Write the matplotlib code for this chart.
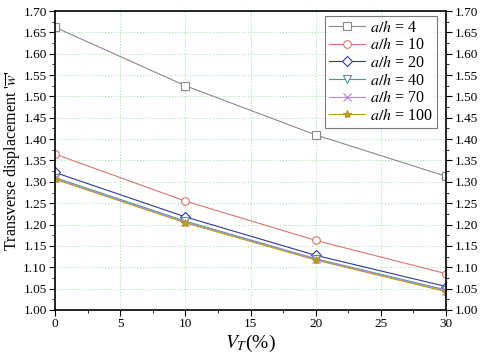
import numpy as np
import matplotlib.pyplot as plt
from matplotlib.ticker import MultipleLocator

plt.rcParams['font.family'] = ['Liberation Serif', 'DejaVu Serif']
plt.rcParams['mathtext.fontset'] = 'stix'

vt = [0, 10, 20, 30]
labels = ['4', '10', '20', '40', '70', '100']
w_4 = [1.662, 1.525, 1.410, 1.313]
w_10 = [1.365, 1.255, 1.163, 1.085]
w_20 = [1.322, 1.218, 1.128, 1.055]
w_40 = [1.310, 1.208, 1.120, 1.047]
w_70 = [1.308, 1.206, 1.119, 1.045]
w_100 = [1.306, 1.204, 1.117, 1.043]

series = [w_4, w_10, w_20, w_40, w_70, w_100]
colors = ['#8a8a8a', '#d8766e', '#34379a', '#3a9c9a', '#b58ad8', '#b89a20']
markers = ['s', 'o', 'D', 'v', 'x', '*']

fig = plt.figure(figsize=(4.8, 3.59), dpi=100)
ax = fig.add_axes([55 / 480, 1 - 310 / 359, 391 / 480, 299 / 359])

for y, lab, c, m in zip(series, labels, colors, markers):
    if m in ('x', '*'):
        ax.plot(vt, y, color=c, lw=0.8, marker=m, ms=6, mew=0.9,
                label='$a/h$ = ' + lab)
    else:
        ax.plot(vt, y, color=c, lw=0.8, marker=m, ms=5.5, mfc='white', mec=c,
                mew=0.8, label='$a/h$ = ' + lab)

ax.set_xlim(0, 30)
ax.set_ylim(1.0, 1.7)
ax.xaxis.set_major_locator(MultipleLocator(5))
ax.xaxis.set_minor_locator(MultipleLocator(2.5))
ax.yaxis.set_major_locator(MultipleLocator(0.05))
ax.yaxis.set_minor_locator(MultipleLocator(0.025))
ax.yaxis.set_major_formatter(plt.FormatStrFormatter('%.2f'))
ax.grid(True, which='major', color='#9fe09f', ls=(0, (1, 2)), lw=0.7)
ax.tick_params(which='both', direction='out', top=False, right=True,
               labelright=True, labelsize=9.5, pad=2)
ax.tick_params(which='major', length=4)
ax.tick_params(which='minor', length=2.5)
for s in ax.spines.values():
    s.set_linewidth(1.2)

ax.set_xlabel('$V_T$(%)', fontsize=14, labelpad=2)
ax.set_ylabel("Transverse displacement '$\\overline{w}$'", fontsize=11.5, labelpad=1)

leg = ax.legend(loc='upper right', bbox_to_anchor=(0.989, 1.0), fontsize=11.5,
                frameon=True, fancybox=False, edgecolor='#555555',
                handlelength=2.3, borderpad=0.25, labelspacing=0.1,
                handletextpad=0.3, borderaxespad=0.3)
leg.get_frame().set_linewidth(0.8)

fig.savefig('out.png', dpi=100)
